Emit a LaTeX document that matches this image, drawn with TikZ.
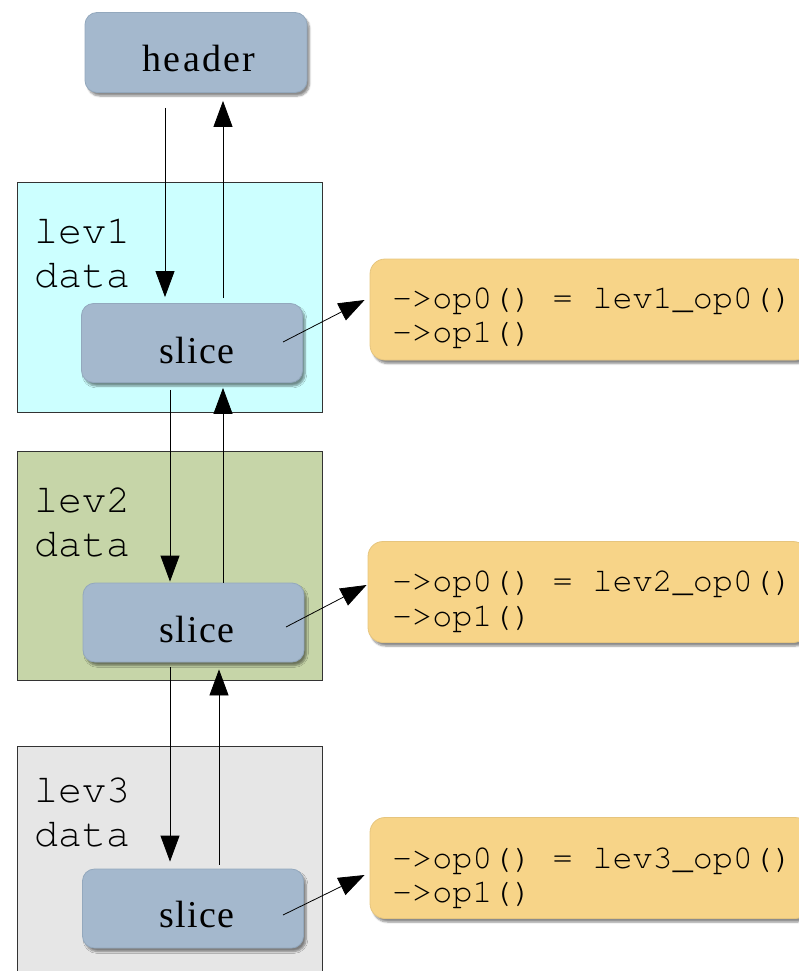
\documentclass[tikz,border=0pt]{standalone}
\usepackage[T1]{fontenc}
\usepackage{fontspec}
\setmainfont{Liberation Serif}
\setmonofont{Liberation Mono}
\usetikzlibrary{arrows.meta,shadows.blur}
\newcommand\courfont{\fontencoding{T1}\fontfamily{pcr}\selectfont}
\definecolor{slicecol}{HTML}{A4B8CD}
\definecolor{slicedraw}{HTML}{93A8BD}
\definecolor{levAcol}{HTML}{CCFFFF}
\definecolor{levBcol}{HTML}{C6D5A8}
\definecolor{levCcol}{HTML}{E6E6E6}
\definecolor{opcol}{HTML}{F7D488}
\definecolor{opdraw}{HTML}{E6C57E}
\tikzset{
  shadowed/.style={blur shadow={shadow xshift=2.5pt, shadow yshift=-3.5pt, shadow blur steps=6, shadow opacity=45}},
  slicebox/.style={shadowed, draw=slicedraw, line width=0.8pt, fill=slicecol, rounded corners=12pt,
    minimum width=221pt, minimum height=79pt, inner sep=0pt},
  levbox/.style={draw=black!80, line width=0.8pt, minimum width=305pt, inner sep=0pt},
  opbox/.style={shadowed, draw=opdraw, line width=0.8pt, fill=opcol, rounded corners=15pt,
    minimum width=440pt, minimum height=101pt, inner sep=0pt},
  levtext/.style={anchor=base west, inner sep=0pt, font=\courfont\fontsize{40}{44}\selectfont},
  optext/.style={anchor=base west, inner sep=0pt, font=\courfont\fontsize{33.4}{35}\selectfont},
  slicetext/.style={anchor=base, inner sep=0pt, font=\fontsize{38}{40}\selectfont\addfontfeatures{LetterSpace=3}},
  arr/.style={line width=0.8pt, -{Triangle[length=26pt,width=19pt]}},
}
\begin{document}
\begin{tikzpicture}[x=1pt,y=-1pt]
\useasboundingbox (0,0) rectangle (798,971);
% level boxes
\node[levbox, fill=levAcol, minimum height=230pt] (L1) at (169.5,297) {};
\node[levbox, fill=levBcol, minimum height=229pt] (L2) at (169.5,565.5) {};
\node[levbox, fill=levCcol, minimum height=240pt] (L3) at (169.5,866) {};
\node[levtext] (L1a) at (34,243) {lev1};
\node[levtext] (L1b) at (34,287) {data};
\node[levtext] (L2a) at (34,512) {lev2};
\node[levtext] (L2b) at (34,556) {data};
\node[levtext] (L3a) at (34,802) {lev3};
\node[levtext] (L3b) at (34,846) {data};
% header and slices
\node[slicebox, minimum width=222pt, minimum height=80pt] (H) at (196,52.5) {};
\node[slicetext, font=\fontsize{38}{40}\selectfont\addfontfeatures{LetterSpace=6}] (Ht) at (199,72) {header};
\node[slicebox] (S1) at (192,343) {};
\node[slicetext] (S1t) at (197,363) {slice};
\node[slicebox] (S2) at (193.5,622.5) {};
\node[slicetext] (S2t) at (197,642) {slice};
\node[slicebox] (S3) at (193,908.5) {};
\node[slicetext] (S3t) at (197,927) {slice};
% op boxes
\node[opbox] (O1) at (590,309.5) {};
\node[optext] (O1a) at (392,308) {->op0() = lev1\_op0()};
\node[optext] (O1b) at (392,342) {->op1()};
\node[opbox] (O2) at (588,592) {};
\node[optext] (O2a) at (392,591) {->op0() = lev2\_op0()};
\node[optext] (O2b) at (392,626) {->op1()};
\node[opbox] (O3) at (590,868) {};
\node[optext] (O3a) at (392,868) {->op0() = lev3\_op0()};
\node[optext] (O3b) at (392,902) {->op1()};
% vertical connectors
\draw[arr, shorten <=15pt, shorten >=6pt] ([xshift=-31pt]H.south) -- ([xshift=-27pt]S1.north);
\draw[arr, shorten <=5pt, shorten >=8pt] ([xshift=31pt]S1.north) -- ([xshift=27pt]H.south);
\draw[arr, shorten <=7pt, shorten >=1pt] ([xshift=-22pt]S1.south) -- ([xshift=-23.5pt]S2.north);
\draw[arr, shorten <=0pt, shorten >=5pt] ([xshift=29.5pt]S2.north) -- ([xshift=31pt]S1.south);
\draw[arr, shorten <=5pt, shorten >=7pt] ([xshift=-23.5pt]S2.south) -- ([xshift=-23pt]S3.north);
\draw[arr, shorten <=4pt, shorten >=7pt] ([xshift=26pt]S3.north) -- ([xshift=25.5pt]S2.south);
% slice to op connectors
\draw[arr] ([xshift=91pt,yshift=1pt]S1.center) -- ([xshift=-5pt,yshift=9.5pt]O1.west);
\draw[arr] ([xshift=92.5pt,yshift=-4.5pt]S2.center) -- ([xshift=-1pt,yshift=7pt]O2.west);
\draw[arr] ([xshift=90pt,yshift=-6.5pt]S3.center) -- ([xshift=-5pt,yshift=-7pt]O3.west);
\end{tikzpicture}
\end{document}
